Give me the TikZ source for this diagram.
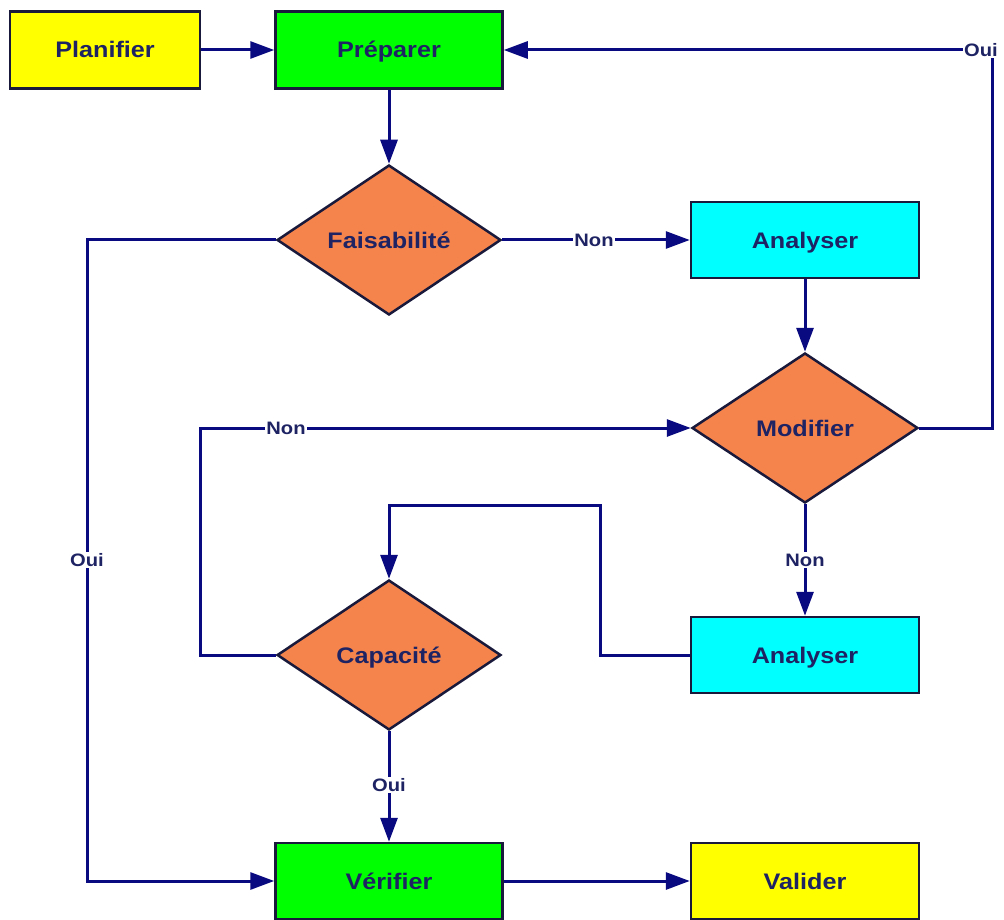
\documentclass[tikz,border=0pt]{standalone}
\usepackage{fontspec}
\setmainfont{Liberation Sans}[FakeStretch=1.12]
\usetikzlibrary{shapes.geometric,arrows.meta}
\definecolor{linec}{RGB}{10,10,128}
\definecolor{txtc}{RGB}{30,35,100}
\definecolor{bordc}{RGB}{25,25,60}
\definecolor{yel}{RGB}{255,255,0}
\definecolor{grn}{RGB}{0,255,0}
\definecolor{cyn}{RGB}{0,255,255}
\definecolor{ora}{RGB}{244,132,76}
\tikzset{
  x=1pt,y=-1pt,
  box/.style={draw=bordc,line width=2.5pt,rectangle,minimum width=227pt,minimum height=76pt,inner sep=0pt,
    text height=16pt,text depth=0pt,
    text=txtc,font=\fontsize{22.5}{26}\selectfont\bfseries},
  dec/.style={draw=bordc,line width=2.5pt,diamond,minimum width=224pt,minimum height=150pt,inner sep=0pt,fill=ora,
    text height=16pt,text depth=0pt,
    text=txtc,font=\fontsize{22.5}{26}\selectfont\bfseries},
  conn/.style={draw=linec,line width=3pt,-{Triangle[length=24pt,width=17pt]}},
  lbl/.style={fill=white,inner sep=1.5pt,text height=13pt,text depth=0pt,text=txtc,font=\fontsize{18}{20}\selectfont\bfseries}
}
\begin{document}
\begin{tikzpicture}
\useasboundingbox (0,0) rectangle (1004,920);
\fill[white] (0,0) rectangle (1004,920);
% nodes
\node[box,fill=yel,minimum width=190pt,minimum height=77pt] (plan) at (105,50) {Planifier};
\node[box,fill=grn,minimum height=77pt] (prep) at (389,50) {Préparer};
\node[dec] (fais) at (389,240) {Faisabilité};
\node[box,fill=cyn,minimum width=228pt] (ana1) at (805,240) {Analyser};
\node[dec,minimum width=226pt] (modif) at (805,428) {Modifier};
\node[box,fill=cyn,minimum width=228pt] (ana2) at (805,655) {Analyser};
\node[dec] (capa) at (389,655) {Capacité};
\node[box,fill=grn] (verif) at (389,881) {Vérifier};
\node[box,fill=yel,minimum width=228pt] (valid) at (805,881) {Valider};
% coordinates
\coordinate (c1) at (992,428);
\coordinate (c2) at (992,50);
\coordinate (c3) at (600,655);
\coordinate (c4) at (600,505);
\coordinate (c5) at (389,505);
\coordinate (c6) at (200,655);
\coordinate (c7) at (200,428);
\coordinate (c8) at (87,240);
\coordinate (c9) at (87,881);
% connectors
\draw[conn] (plan.east) -- (prep.west);
\draw[conn] (modif.east) -- (c1) -- (c2) -- (prep.east);
\draw[conn] (prep.south) -- (fais.north);
\draw[conn] (fais.east) -- (ana1.west);
\draw[conn] (ana1.south) -- (modif.north);
\draw[conn] (modif.south) -- (ana2.north);
\draw[conn] (ana2.west) -- (c3) -- (c4) -- (c5) -- (capa.north);
\draw[conn] (capa.west) -- (c6) -- (c7) -- (modif.west);
\draw[conn] (fais.west) -- (c8) -- (c9) -- (verif.west);
\draw[conn] (capa.south) -- (verif.north);
\draw[conn] (verif.east) -- (valid.west);
% labels
\node[lbl] (l1) at (981,50) {Oui};
\node[lbl] (l2) at (594,240) {Non};
\node[lbl] (l3) at (286,428) {Non};
\node[lbl] (l4) at (805,560) {Non};
\node[lbl] (l5) at (87,560) {Oui};
\node[lbl] (l6) at (389,785) {Oui};
\end{tikzpicture}
\end{document}
